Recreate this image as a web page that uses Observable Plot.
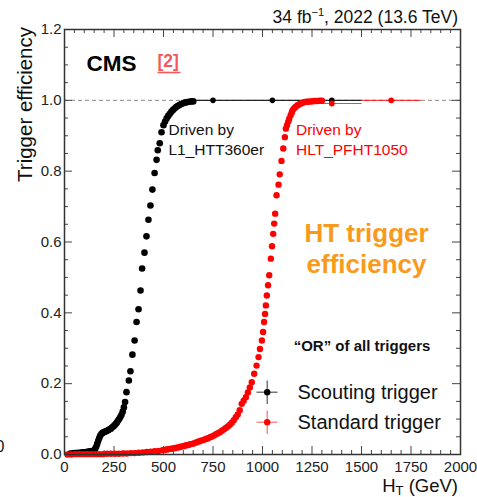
<!DOCTYPE html>
<html>
<head>
<meta charset="utf-8">
<script src="https://cdn.jsdelivr.net/npm/d3@7"></script>
<script src="https://cdn.jsdelivr.net/npm/@observablehq/plot@0.6"></script>
<style>
  html, body { margin: 0; padding: 0; background: #fff; }
  svg text { font-family: "Liberation Sans", Arial, Helvetica, sans-serif; }
</style>
</head>
<body>
<div id="chart"></div>
<script>
// ---------- data ----------
const scoutHT = [30,40,50,60,70,80,90,100,110,120,130,140,150,155,160,165,170,175,180,186,192,198,204,210,216,222,228,234,240,246,252,258,264,270,276,282,288,294,300,306,313,325,333,343,354,364,374,384,392,404,414,424,434,444,455,465,471,481,490,500,508,516,524,532,540,548,556,564,572,580,588,596,604,612,620,630,640,650];
const scoutEff = [0.003,0.003,0.004,0.004,0.005,0.005,0.006,0.006,0.007,0.008,0.009,0.010,0.012,0.016,0.022,0.030,0.038,0.046,0.053,0.058,0.061,0.063,0.064,0.066,0.067,0.069,0.071,0.073,0.076,0.079,0.082,0.086,0.090,0.095,0.100,0.106,0.112,0.121,0.133,0.148,0.176,0.209,0.235,0.282,0.322,0.374,0.410,0.463,0.525,0.570,0.616,0.663,0.703,0.748,0.795,0.832,0.859,0.879,0.910,0.930,0.940,0.949,0.956,0.962,0.968,0.973,0.977,0.981,0.984,0.987,0.989,0.991,0.993,0.994,0.995,0.996,0.997,0.997];

const scoutWideHT  = [750, 1050, 1350];
const scoutWideLo  = [600, 900, 1200];
const scoutWideHi  = [900, 1200, 1500];
const scoutWideEff = [1.0, 1.0, 1.0];

const stdHT = [15,35,55,75,95,115,135,155,175,195,215,235,255,275,295,315,335,355,375,395,415,435,455,475,495,
  505,515,525,535,545,555,565,575,585,595,605,615,625,635,645,655,665,675,685,695,705,715,725,735,745,755,765,775,785,795,805,815,825,835,845,855,865,875,885,
  895,905,916,926,936,946,958,970,980,987,997,1003,1008,1013,1017,1022,1028,1034,1042,1048,1054,1059,1064,1071,1081,1087,1096,1105,1113,1118,1124,1130,1135,1142,1148,1152,1160,1168,1177,1186,1195,1204,1211,1220,1230,1240,1250,1260,1270,1280,1290,1300];
const stdEff = [0.000,0.000,0.001,0.001,0.001,0.001,0.001,0.001,0.001,0.001,0.002,0.002,0.002,0.002,0.003,0.003,0.004,0.004,0.005,0.006,0.007,0.008,0.009,0.010,0.012,
  0.013,0.014,0.015,0.016,0.017,0.018,0.019,0.020,0.022,0.023,0.024,0.026,0.027,0.029,0.030,0.032,0.034,0.036,0.038,0.040,0.042,0.044,0.046,0.049,0.051,0.054,0.057,0.060,0.063,0.067,0.071,0.075,0.079,0.084,0.090,0.097,0.105,0.113,0.125,
  0.143,0.152,0.162,0.175,0.189,0.204,0.228,0.251,0.275,0.298,0.322,0.346,0.374,0.397,0.421,0.449,0.478,0.506,0.553,0.588,0.623,0.652,0.680,0.732,0.762,0.791,0.829,0.864,0.896,0.920,0.930,0.940,0.948,0.958,0.966,0.972,0.978,0.982,0.986,0.989,0.991,0.993,0.995,0.996,0.996,0.997,0.997,0.998,0.998,0.998,0.999,0.999];

const stdWideHT  = [1350, 1650];
const stdWideLo  = [1200, 1500];
const stdWideHi  = [1500, 1800];
const stdWideEff = [0.991, 1.0];

const xTicks = [0,250,500,750,1000,1250,1500,1750,2000];
const yTicks = [0,0.2,0.4,0.6,0.8,1.0,1.2];
const seriesNames = ["Scouting trigger", "Standard trigger"];

// ---------- tables ----------
const scout = scoutHT.map((x, i) => ({x, y: scoutEff[i]}));
const std = stdHT.map((x, i) => ({x, y: stdEff[i]}));
const scoutWide = scoutWideHT.map((x, i) => ({x, lo: scoutWideLo[i], hi: scoutWideHi[i], y: scoutWideEff[i]}));
const stdWide = stdWideHT.map((x, i) => ({x, lo: stdWideLo[i], hi: stdWideHi[i], y: stdWideEff[i]}));

// ---------- layout ----------
const W = 477, H = 497, mL = 64, mR = 17, mT = 29, mB = 43;
const gevPerPx = 2000 / (W - mL - mR);
const effPerPx = 1.2 / (H - mT - mB);
const px2x = p => (p - mL) * gevPerPx;
const py2y = p => (H - mB - p) * effPerPx;

const xMinor = d3.range(0, 2001, 50).filter(v => v % 250 !== 0);
const yMinor = d3.range(0, 1.2001, 0.05).map(v => +v.toFixed(2)).filter(v => Math.abs(v * 5 - Math.round(v * 5)) > 1e-6);

const tickColor = "#444";
const majLen = 8, minLen = 4;

const FONT = '"Liberation Sans", Arial, Helvetica, sans-serif';
const red = "#ff0000";

const chart = Plot.plot({
  width: W, height: H,
  marginLeft: mL, marginRight: mR, marginTop: mT, marginBottom: mB,
  style: {fontFamily: FONT, fontSize: "15px", color: "#222", background: "#fff"},
  x: {domain: [0, 2000], ticks: xTicks, tickSize: 0, tickPadding: 7, label: null, tickFormat: d => String(d)},
  y: {domain: [0, 1.2], ticks: yTicks, tickSize: 0, tickPadding: 3, label: null, tickFormat: d => d.toFixed(1)},
  marks: [
    Plot.ruleY([1], {stroke: "#8a8a8a", strokeDasharray: "4,3", strokeWidth: 1}),
    // tick marks (inward) on all four sides
    Plot.ruleX(xTicks, {x: d => d, y1: 0, y2: majLen * effPerPx, stroke: tickColor}),
    Plot.ruleX(xMinor, {x: d => d, y1: 0, y2: minLen * effPerPx, stroke: tickColor}),
    Plot.ruleX(xTicks, {x: d => d, y1: 1.2, y2: 1.2 - majLen * effPerPx, stroke: tickColor}),
    Plot.ruleX(xMinor, {x: d => d, y1: 1.2, y2: 1.2 - minLen * effPerPx, stroke: tickColor}),
    Plot.ruleY(yTicks, {y: d => d, x1: 0, x2: majLen * gevPerPx, stroke: tickColor}),
    Plot.ruleY(yMinor, {y: d => d, x1: 0, x2: minLen * gevPerPx, stroke: tickColor}),
    Plot.ruleY(yTicks, {y: d => d, x1: 2000, x2: 2000 - majLen * gevPerPx, stroke: tickColor}),
    Plot.ruleY(yMinor, {y: d => d, x1: 2000, x2: 2000 - minLen * gevPerPx, stroke: tickColor}),
    // horizontal error bars of wide bins
    Plot.link(scoutWide, {x1: "lo", x2: "hi", y1: "y", y2: "y", stroke: "#222", strokeWidth: 1.2}),
    Plot.link(stdWide, {x1: "lo", x2: "hi", y1: "y", y2: "y", stroke: red, strokeWidth: 1.2, strokeOpacity: 0.75}),
    // points
    Plot.dot(scout, {x: "x", y: "y", r: 3.3, fill: "#000"}),
    Plot.dot(scoutWide, {x: "x", y: "y", r: 2.8, fill: "#000"}),
    Plot.dot(std, {x: "x", y: "y", r: 3.2, fill: red}),
    Plot.dot(stdWide, {x: "x", y: "y", r: 2.9, fill: red}),
    Plot.frame({stroke: "#333", strokeWidth: 1.5}),
    // annotations
    Plot.text(["CMS"], {x: px2x(86), y: py2y(63), text: d => d, textAnchor: "start", fontSize: 22.5, fontWeight: "bold", fill: "#000"}),
    Plot.text(["[2]"], {x: px2x(157), y: py2y(61), text: d => d, textAnchor: "start", fontSize: 17.5, fontWeight: "bold", fill: "#f05a5a"}),
    Plot.link([0], {x1: px2x(157), x2: px2x(180), y1: py2y(72), y2: py2y(72), stroke: "#f05a5a", strokeWidth: 1.6}),
    Plot.text(["Driven by", "L1_HTT360er"], {x: px2x(168), y: (d, i) => py2y(129.5 + 20 * i), text: d => d, textAnchor: "start", fontSize: 15.5, fill: "#111"}),
    Plot.text(["Driven by", "HLT_PFHT1050"], {x: px2x(295.5), y: (d, i) => py2y(129.5 + 20 * i), text: d => d, textAnchor: "start", fontSize: 15.5, fill: red}),
    Plot.text(["HT trigger", "efficiency"], {x: px2x(366), y: (d, i) => py2y(233 + 31 * i), text: d => d, textAnchor: "middle", fontSize: 26, fontWeight: "bold", fill: "#f99a1c"}),
    Plot.text(["\u201COR\u201D of all triggers"], {x: px2x(361.5), y: py2y(346), text: d => d, textAnchor: "middle", fontSize: 15, fontWeight: "bold", fill: "#111"}),
    // legend
    Plot.link([0, 1], {x1: px2x(256), x2: px2x(277), y1: i => py2y(391.7 + 30 * i), y2: i => py2y(391.7 + 30 * i), stroke: i => i ? "#f07070" : "#555", strokeWidth: 1.2}),
    Plot.link([0, 1], {x1: px2x(266.7), x2: px2x(266.7), y1: i => py2y(380 + 30 * i), y2: i => py2y(403.5 + 30 * i), stroke: i => i ? "#f07070" : "#555", strokeWidth: 1.2}),
    Plot.dot([0, 1], {x: px2x(266.7), y: i => py2y(391.7 + 30 * i), r: 3.2, fill: i => i ? red : "#000"}),
    Plot.text(seriesNames, {x: px2x(297), y: (d, i) => py2y(391.7 + 30 * i), text: d => d, textAnchor: "start", fontSize: 20, fill: "#111"})
  ]
});

const svg = d3.select(chart);
svg.attr("font-family", FONT);
// title
const t = svg.append("text").attr("x", 458).attr("y", 23).attr("text-anchor", "end")
  .attr("font-size", 17.5).attr("fill", "#111");
t.append("tspan").text("34 fb");
t.append("tspan").attr("font-size", 11).attr("dy", -7).text("\u22121");
t.append("tspan").attr("dy", 7).text(", 2022 (13.6 TeV)");
// x label
const xl = svg.append("text").attr("x", 458).attr("y", 492).attr("text-anchor", "end")
  .attr("font-size", 18.5).attr("fill", "#111");
xl.append("tspan").text("H");
xl.append("tspan").attr("font-size", 13).attr("dy", 3).text("T");
xl.append("tspan").attr("dy", -3).text(" (GeV)");
// y label
svg.append("text").attr("transform", "translate(32,27) rotate(-90)").attr("text-anchor", "end")
  .attr("font-size", 20.5).attr("fill", "#111").text("Trigger efficiency");
// partly visible glyph at the left edge, as in the reference
svg.append("text").attr("x", 4.5).attr("y", 452).attr("text-anchor", "end")
  .attr("font-size", 16).attr("fill", "#111").text("0");

document.getElementById("chart").appendChild(chart);
</script>
</body>
</html>
